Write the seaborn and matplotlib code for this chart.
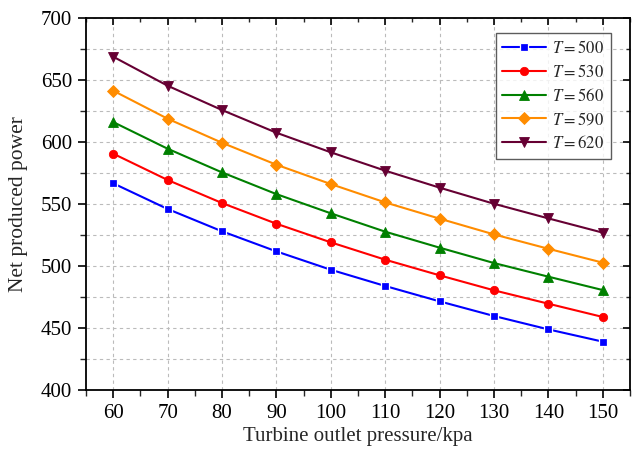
import numpy as np
import pandas as pd
import matplotlib
matplotlib.use("Agg")
import matplotlib.pyplot as plt
import matplotlib.lines as mlines
import seaborn as sns
from matplotlib.ticker import MultipleLocator

pressure = [60, 70, 80, 90, 100, 110, 120, 130, 140, 150]
temps = [500, 530, 560, 590, 620]
p_500 = [566.7, 546.0, 528.0, 511.8, 497.0, 483.9, 471.5, 459.7, 448.9, 439.0]
p_530 = [590.6, 569.4, 550.8, 534.1, 519.1, 505.1, 492.5, 480.4, 469.6, 458.9]
p_560 = [616.1, 594.6, 575.5, 558.0, 542.5, 527.7, 514.8, 502.4, 491.4, 480.6]
p_590 = [641.4, 618.8, 599.4, 581.7, 566.1, 551.3, 538.2, 525.5, 513.9, 502.7]
p_620 = [668.8, 645.4, 625.8, 607.5, 591.7, 576.9, 563.2, 550.2, 538.4, 526.9]
series = [p_500, p_530, p_560, p_590, p_620]

labels = [f"$T = {t}$" for t in temps]
rows = []
for lab, vals in zip(labels, series):
    for x, v in zip(pressure, vals):
        rows.append({"pressure": x, "power": v, "series": lab})
df = pd.DataFrame(rows)

sns.set_theme(style="ticks")
plt.rcParams["font.family"] = ["Liberation Serif", "DejaVu Serif"]
plt.rcParams["mathtext.fontset"] = "stix"

colors = ["#0000FF", "#FF0000", "#008000", "#FF8C00", "#660033"]
markers = ["s", "o", "^", "D", "v"]
msizes = [5.5, 6, 6.5, 5.8, 6.5]

fig = plt.figure(figsize=(6.34, 4.5), dpi=100)
ax = fig.add_axes([0.1356, 0.1333, 0.858, 0.8267])

for lab, c, m, ms in zip(labels, colors, markers, msizes):
    sub = df[df["series"] == lab]
    sns.lineplot(data=sub, x="pressure", y="power", ax=ax, color=c, marker=m,
                 markersize=ms, markeredgecolor=c if m != "s" else "white",
                 markeredgewidth=0.6 if m != "s" else 0.9,
                 linewidth=1.5, label=lab)

ax.set_xlim(55, 155)
ax.set_ylim(400, 700)
ax.xaxis.set_major_locator(MultipleLocator(10))
ax.xaxis.set_minor_locator(MultipleLocator(5))
ax.yaxis.set_major_locator(MultipleLocator(50))
ax.yaxis.set_minor_locator(MultipleLocator(25))

ax.grid(True, which="major", axis="x", color="#bbbbbb", linestyle=(0, (3, 3)), linewidth=0.8)
ax.grid(True, which="both", axis="y", color="#bbbbbb", linestyle=(0, (3, 3)), linewidth=0.8)

ax.tick_params(axis="both", which="major", labelsize=15, direction="out", length=6, width=1.2, colors="black")
ax.tick_params(axis="both", which="minor", direction="out", length=4, width=1.0)
ax.tick_params(axis="y", which="both", right=True)
ax.tick_params(axis="x", which="both", top=True)
ax.tick_params(axis="both", which="major", pad=4)

fig.canvas.draw()
# right and top ticks point inward
for t in ax.yaxis.get_major_ticks() + ax.yaxis.get_minor_ticks():
    t.tick2line.set_marker(mlines.TICKLEFT)
for t in ax.xaxis.get_major_ticks() + ax.xaxis.get_minor_ticks():
    t.tick2line.set_marker(mlines.TICKDOWN)
for t in ax.yaxis.get_minor_ticks() + ax.xaxis.get_minor_ticks():
    t.tick2line.set_markersize(3)
for t in ax.yaxis.get_major_ticks() + ax.xaxis.get_major_ticks():
    t.tick2line.set_markersize(5)

for s in ax.spines.values():
    s.set_color("black")
    s.set_linewidth(1.3)

ax.set_xlabel("Turbine outlet pressure/kpa", fontsize=15, labelpad=3)
ax.set_ylabel("Net produced power", fontsize=15.5, labelpad=9)

leg = ax.legend(loc="upper right", bbox_to_anchor=(0.965, 0.96), fontsize=12,
                frameon=True, fancybox=False, edgecolor="#333333",
                handlelength=2.6, borderpad=0.4, labelspacing=0.42, handletextpad=0.4,
                borderaxespad=0.0)
leg.get_frame().set_linewidth(1.0)

fig.savefig("out.png", dpi=100)
